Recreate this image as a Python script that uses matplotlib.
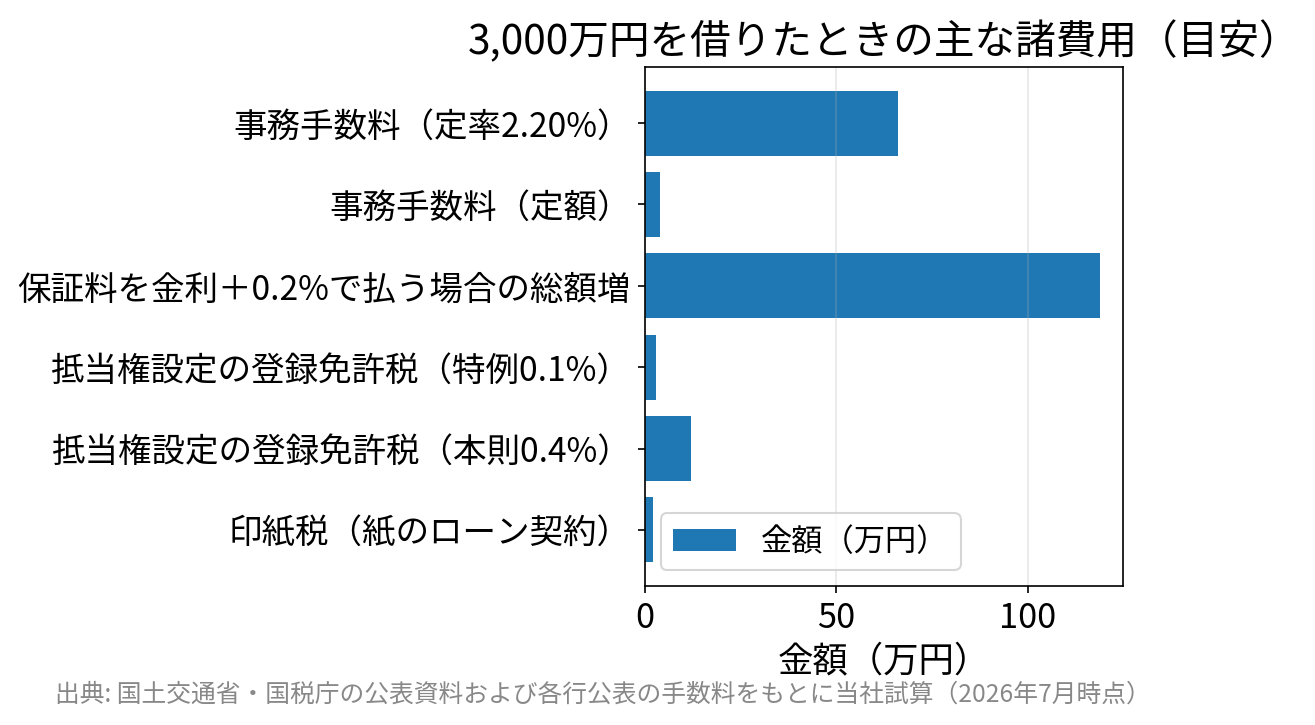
import matplotlib
matplotlib.use('Agg')
import matplotlib.pyplot as plt

plt.rcParams['font.family'] = ['Noto Sans CJK JP', 'DejaVu Sans']

labels = ['事務手数料（定率2.20%）',
          '事務手数料（定額）',
          '保証料を金利＋0.2%で払う場合の総額増',
          '抵当権設定の登録免許税（特例0.1%）',
          '抵当権設定の登録免許税（本則0.4%）',
          '印紙税（紙のローン契約）']
values = [66.0, 3.9, 118.9, 3.0, 12.0, 2.0]

fig = plt.figure(figsize=(1315 / 150, 725 / 150), dpi=150)
ax = fig.add_axes([645 / 1315, 1 - 586 / 725, (1123 - 645) / 1315, (586 - 67) / 725])

ax.barh(labels, values, color='#1f77b4', label='金額（万円）')
ax.invert_yaxis()
ax.grid(axis='x', alpha=0.3)

ax.set_title('3,000万円を借りたときの主な諸費用（目安）', fontsize=19.5)
ax.set_xlabel('金額（万円）', fontsize=17)
ax.tick_params(axis='y', labelsize=16.1)
ax.tick_params(axis='x', labelsize=16.5)
ax.legend(loc='lower left', fontsize=15)

fig.text(55 / 1315, 1 - 695 / 725,
         '出典: 国土交通省・国税庁の公表資料および各行公表の手数料をもとに当社試算（2026年7月時点）',
         fontsize=11.9, color='#888888', ha='left', va='center')

fig.savefig('out.png', dpi=150)
